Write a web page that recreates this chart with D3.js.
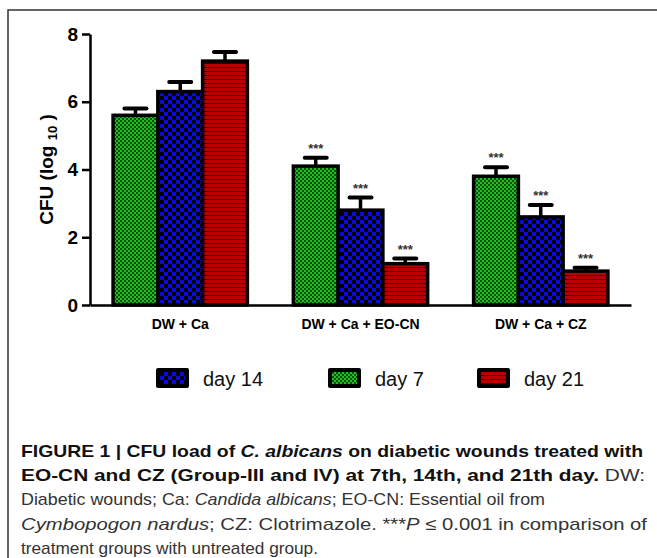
<!DOCTYPE html>
<html>
<head>
<meta charset="utf-8">
<script src="https://cdn.jsdelivr.net/npm/d3@7"></script>
<style>
  body { margin: 0; background: #fff; }
  svg { display: block; font-family: "Liberation Sans", Arial, sans-serif; }
</style>
</head>
<body>
<div id="chart"></div>
<script>
const categories = ["DW + Ca", "DW + Ca + EO-CN", "DW + Ca + CZ"];
const seriesNames = ["day 7", "day 14", "day 21"];
const day7 = [5.6, 4.1, 3.8];
const day14 = [6.3, 2.8, 2.6];
const day21 = [7.2, 1.22, 1.0];
const err7 = [0.2, 0.25, 0.27];
const err14 = [0.28, 0.37, 0.35];
const err21 = [0.27, 0.15, 0.1];
const stars = ["", "***", "***"];
const yTicks = [0, 2, 4, 6, 8];
const legendOrder = ["day 14", "day 7", "day 21"];

const width = 657, height = 558;
const margin = { top: 34, right: 26, bottom: 253, left: 90 };

const svg = d3.select("#chart").append("svg")
    .attr("width", width)
    .attr("height", height);

// patterns
const defs = svg.append("defs");
const pGreen = defs.append("pattern").attr("id", "pat-green")
    .attr("patternUnits", "userSpaceOnUse").attr("width", 4).attr("height", 4);
pGreen.append("rect").attr("width", 4).attr("height", 4).attr("fill", "#1fbf1f");
pGreen.append("rect").attr("width", 2).attr("height", 2).attr("fill", "#0b500b");
pGreen.append("rect").attr("x", 2).attr("y", 2).attr("width", 2).attr("height", 2).attr("fill", "#0b500b");

const pBlue = defs.append("pattern").attr("id", "pat-blue")
    .attr("patternUnits", "userSpaceOnUse").attr("width", 8).attr("height", 8);
pBlue.append("rect").attr("width", 8).attr("height", 8).attr("fill", "#0a0ae0");
pBlue.append("rect").attr("width", 4).attr("height", 4).attr("fill", "#000");
pBlue.append("rect").attr("x", 4).attr("y", 4).attr("width", 4).attr("height", 4).attr("fill", "#000");

const pRed = defs.append("pattern").attr("id", "pat-red")
    .attr("patternUnits", "userSpaceOnUse").attr("width", 4).attr("height", 4);
pRed.append("rect").attr("width", 4).attr("height", 4).attr("fill", "#b80000");
pRed.append("rect").attr("y", 3).attr("width", 4).attr("height", 1.3).attr("fill", "#2a0000");

const fills = { "day 7": "url(#pat-green)", "day 14": "url(#pat-blue)", "day 21": "url(#pat-red)" };
const values = { "day 7": day7, "day 14": day14, "day 21": day21 };
const errors = { "day 7": err7, "day 14": err14, "day 21": err21 };

// frame
svg.append("path")
    .attr("d", `M8,${height} V10 H${width}`)
    .attr("fill", "none")
    .attr("stroke", "#333")
    .attr("stroke-width", 1.5);

const x0 = d3.scaleBand()
    .domain(categories)
    .range([margin.left, width - margin.right])
    .paddingInner(0.255)
    .paddingOuter(0.128);

const x1 = d3.scaleBand()
    .domain(seriesNames)
    .range([0, x0.bandwidth()]);

const y = d3.scaleLinear()
    .domain([0, 8])
    .range([height - margin.bottom, margin.top]);

const bars = [];
categories.forEach((c, i) => {
    seriesNames.forEach(s => {
        bars.push({ cat: c, series: s, value: values[s][i], err: errors[s][i], star: stars[i] });
    });
});

const barG = svg.append("g");

// error bars
const eb = barG.selectAll(".err").data(bars).enter().append("g").attr("class", "err");
eb.append("line")
    .attr("x1", d => x0(d.cat) + x1(d.series) + x1.bandwidth() / 2)
    .attr("x2", d => x0(d.cat) + x1(d.series) + x1.bandwidth() / 2)
    .attr("y1", d => y(d.value))
    .attr("y2", d => y(d.value + d.err))
    .attr("stroke", "#000").attr("stroke-width", 3.5);
eb.append("line")
    .attr("x1", d => x0(d.cat) + x1(d.series) + x1.bandwidth() / 2 - 11)
    .attr("x2", d => x0(d.cat) + x1(d.series) + x1.bandwidth() / 2 + 11)
    .attr("y1", d => y(d.value + d.err))
    .attr("y2", d => y(d.value + d.err))
    .attr("stroke", "#000").attr("stroke-width", 4).attr("stroke-linecap", "round");

barG.selectAll(".bar").data(bars).enter().append("rect")
    .attr("class", "bar")
    .attr("x", d => x0(d.cat) + x1(d.series))
    .attr("y", d => y(d.value))
    .attr("width", x1.bandwidth())
    .attr("height", d => y(0) - y(d.value))
    .attr("fill", d => fills[d.series])
    .attr("stroke", "#000")
    .attr("stroke-width", 3.5);

barG.selectAll(".star").data(bars.filter(d => d.star)).enter().append("text")
    .attr("class", "star")
    .attr("x", d => x0(d.cat) + x1(d.series) + x1.bandwidth() / 2)
    .attr("y", d => y(d.value + d.err) - 5)
    .attr("text-anchor", "middle")
    .attr("font-size", 13)
    .attr("font-weight", "bold")
    .attr("fill", "#333")
    .text(d => d.star);

// axes
const yAxis = svg.append("g")
    .attr("transform", `translate(${margin.left},0)`)
    .call(d3.axisLeft(y).tickValues(yTicks).tickSize(8).tickSizeOuter(0).tickPadding(4));
yAxis.select(".domain").attr("stroke-width", 2.5);
yAxis.selectAll(".tick line").attr("stroke-width", 2.5);
yAxis.selectAll(".tick text")
    .attr("font-size", 19)
    .attr("font-weight", "bold")
    .attr("fill", "#000")
    .attr("font-family", "Liberation Sans, Arial, sans-serif");

const xAxis = svg.append("g")
    .attr("transform", `translate(0,${y(0)})`)
    .call(d3.axisBottom(x0).tickSize(0).tickPadding(14));
xAxis.select(".domain").attr("stroke-width", 2.5);
xAxis.selectAll(".tick text")
    .attr("font-size", 14)
    .attr("font-weight", "bold")
    .attr("fill", "#000")
    .attr("font-family", "Liberation Sans, Arial, sans-serif");

// y title
const yTitle = svg.append("text")
    .attr("transform", `translate(53,${(y(0) + y(8)) / 2}) rotate(-90)`)
    .attr("text-anchor", "middle")
    .attr("font-size", 19)
    .attr("font-weight", "bold");
yTitle.append("tspan").text("CFU (log ");
yTitle.append("tspan").attr("font-size", 13).attr("dy", 4).text("10");
yTitle.append("tspan").attr("dy", -4).text(" )");

// legend
const legendX = { "day 14": 156, "day 7": 328, "day 21": 477 };
const legend = svg.append("g");
legendOrder.forEach(s => {
    const g = legend.append("g").attr("transform", `translate(${legendX[s]},368)`);
    g.append("rect").attr("width", 33).attr("height", 20).attr("rx", 2)
        .attr("fill", "#000");
    g.append("rect").attr("x", 4).attr("y", 4).attr("width", 25).attr("height", 12)
        .attr("fill", fills[s]);
    g.append("text").attr("x", 47).attr("y", 18)
        .attr("font-size", 20)
        .attr("fill", "#111")
        .text(s);
});

// caption
const caption = [
    { len: 622, parts: [["FIGURE 1 | CFU load of ", "b"], ["C. albicans", "bi"], [" on diabetic wounds treated with", "b"]] },
    { len: 624, parts: [["EO-CN and CZ (Group-III and IV) at 7th, 14th, and 21th day.", "b"], [" DW:", ""]] },
    { len: 524, parts: [["Diabetic wounds; Ca: ", ""], ["Candida albicans", "i"], ["; EO-CN: Essential oil from", ""]] },
    { len: 626, parts: [["Cymbopogon nardus", "i"], ["; CZ: Clotrimazole. ***", ""], ["P", "i"], [" \u2264 0.001 in comparison of", ""]] },
    { len: 297, parts: [["treatment groups with untreated group.", ""]] }
];
const capG = svg.append("g").attr("fill", "#222");
caption.forEach((line, i) => {
    const t = capG.append("text")
        .attr("x", 21)
        .attr("y", 457 + i * 24.2)
        .attr("font-size", 17)
        .attr("textLength", line.len)
        .attr("lengthAdjust", "spacingAndGlyphs");
    line.parts.forEach(([txt, st]) => {
        t.append("tspan")
            .attr("font-weight", st.includes("b") ? "bold" : "normal")
            .attr("font-style", st.includes("i") ? "italic" : "normal")
            .attr("fill", st.includes("b") ? "#111" : "#333")
            .text(txt);
    });
});
</script>
</body>
</html>
